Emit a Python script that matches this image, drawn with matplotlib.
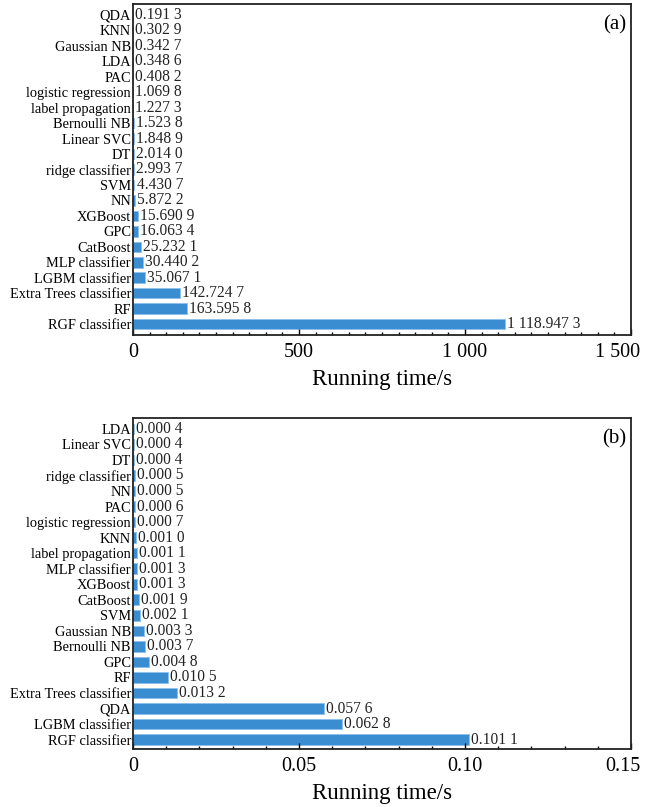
import numpy as np
import matplotlib.pyplot as plt
from matplotlib.ticker import MultipleLocator, FuncFormatter

plt.rcParams['font.family'] = ['Liberation Serif', 'DejaVu Serif']

# panel (a): top to bottom
names_a = ["QDA", "KNN", "Gaussian NB", "LDA", "PAC", "logistic regression",
           "label propagation", "Bernoulli NB", "Linear SVC", "DT", "ridge classifier",
           "SVM", "NN", "XGBoost", "GPC", "CatBoost", "MLP classifier",
           "LGBM classifier", "Extra Trees classifier", "RF", "RGF classifier"]
times_a = [0.1913, 0.3029, 0.3427, 0.3486, 0.4082, 1.0698, 1.2273, 1.5238, 1.8489,
           2.0140, 2.9937, 4.4307, 5.8722, 15.6909, 16.0634, 25.2321, 30.4402,
           35.0671, 142.7247, 163.5958, 1118.9473]

# panel (b): top to bottom
names_b = ["LDA", "Linear SVC", "DT", "ridge classifier", "NN", "PAC",
           "logistic regression", "KNN", "label propagation", "MLP classifier",
           "XGBoost", "CatBoost", "SVM", "Gaussian NB", "Bernoulli NB", "GPC", "RF",
           "Extra Trees classifier", "QDA", "LGBM classifier", "RGF classifier"]
times_b = [0.0004, 0.0004, 0.0004, 0.0005, 0.0005, 0.0006, 0.0007, 0.0010, 0.0011,
           0.0013, 0.0013, 0.0019, 0.0021, 0.0033, 0.0037, 0.0048, 0.0105, 0.0132,
           0.0576, 0.0628, 0.1011]

BAR = '#3a8dd0'


def group(s, from_left):
    # split digits into groups of three separated by a space
    if from_left:
        parts = [s[i:i + 3] for i in range(0, len(s), 3)]
    else:
        r = s[::-1]
        parts = [r[i:i + 3][::-1] for i in range(0, len(r), 3)][::-1]
    return " ".join(parts)


def fmt_num(v, dec):
    s = f"{v:.{dec}f}"
    if "." in s:
        ip, fp = s.split(".")
        return group(ip, False) + "." + group(fp, True)
    return group(s, False)


def panel(ax, names, vals, xmax, major, minor, tickdec, tag, ybot, last_shift):
    y = np.arange(len(names))
    ax.barh(y, vals, height=0.68, color=BAR, edgecolor='#8cc0ea', linewidth=0.6)
    for yi, v in zip(y, vals):
        ax.annotate(fmt_num(v, 4), (v, yi), xytext=(1.5, 0), textcoords='offset points',
                    ha='left', va='center', fontsize=11.2, color='#222222')
    ax.set_yticks(y)
    ax.set_yticklabels(names, fontsize=10.4)
    ax.set_ylim(ybot, -0.7)
    ax.set_xlim(0, xmax)
    ax.xaxis.set_major_locator(MultipleLocator(major))
    ax.xaxis.set_minor_locator(MultipleLocator(minor))

    def tick_fmt(x, p):
        if x == 0:
            return "0"
        if np.isclose(x, xmax):
            return ""  # drawn separately below, nudged left
        return fmt_num(x, tickdec)

    ax.xaxis.set_major_formatter(FuncFormatter(tick_fmt))
    ax.tick_params(axis='x', which='major', direction='in', length=4.3, width=1,
                   labelsize=14.5, pad=6)
    ax.tick_params(axis='x', which='minor', direction='in', length=2.3, width=1)
    ax.tick_params(axis='y', length=0, pad=1.5)
    ax.annotate(fmt_num(xmax, tickdec), (xmax, 0), xycoords=('data', 'axes fraction'),
                xytext=(last_shift, -6), textcoords='offset points',
                ha='center', va='top', fontsize=14.5, annotation_clip=False)
    for sp in ax.spines.values():
        sp.set_linewidth(1.3)
        sp.set_color('#222222')
    ax.set_xlabel("Running time/s", fontsize=16.5, labelpad=5)
    ax.text(0.99, 0.965, tag, transform=ax.transAxes, ha='right', va='top', fontsize=15)


fig = plt.figure(figsize=(6.51, 8.07), dpi=100)
ax1 = fig.add_axes([0.2043, 0.5849, 0.7650, 0.4102])
ax2 = fig.add_axes([0.2043, 0.0719, 0.7650, 0.4102])

panel(ax1, names_a, times_a, 1500, 500, 50, 0, "(a)", 20.7, -10)
panel(ax2, names_b, times_b, 0.15, 0.05, 0.01, 2, "(b)", 20.6, -6)

fig.savefig("out.png", dpi=100)
